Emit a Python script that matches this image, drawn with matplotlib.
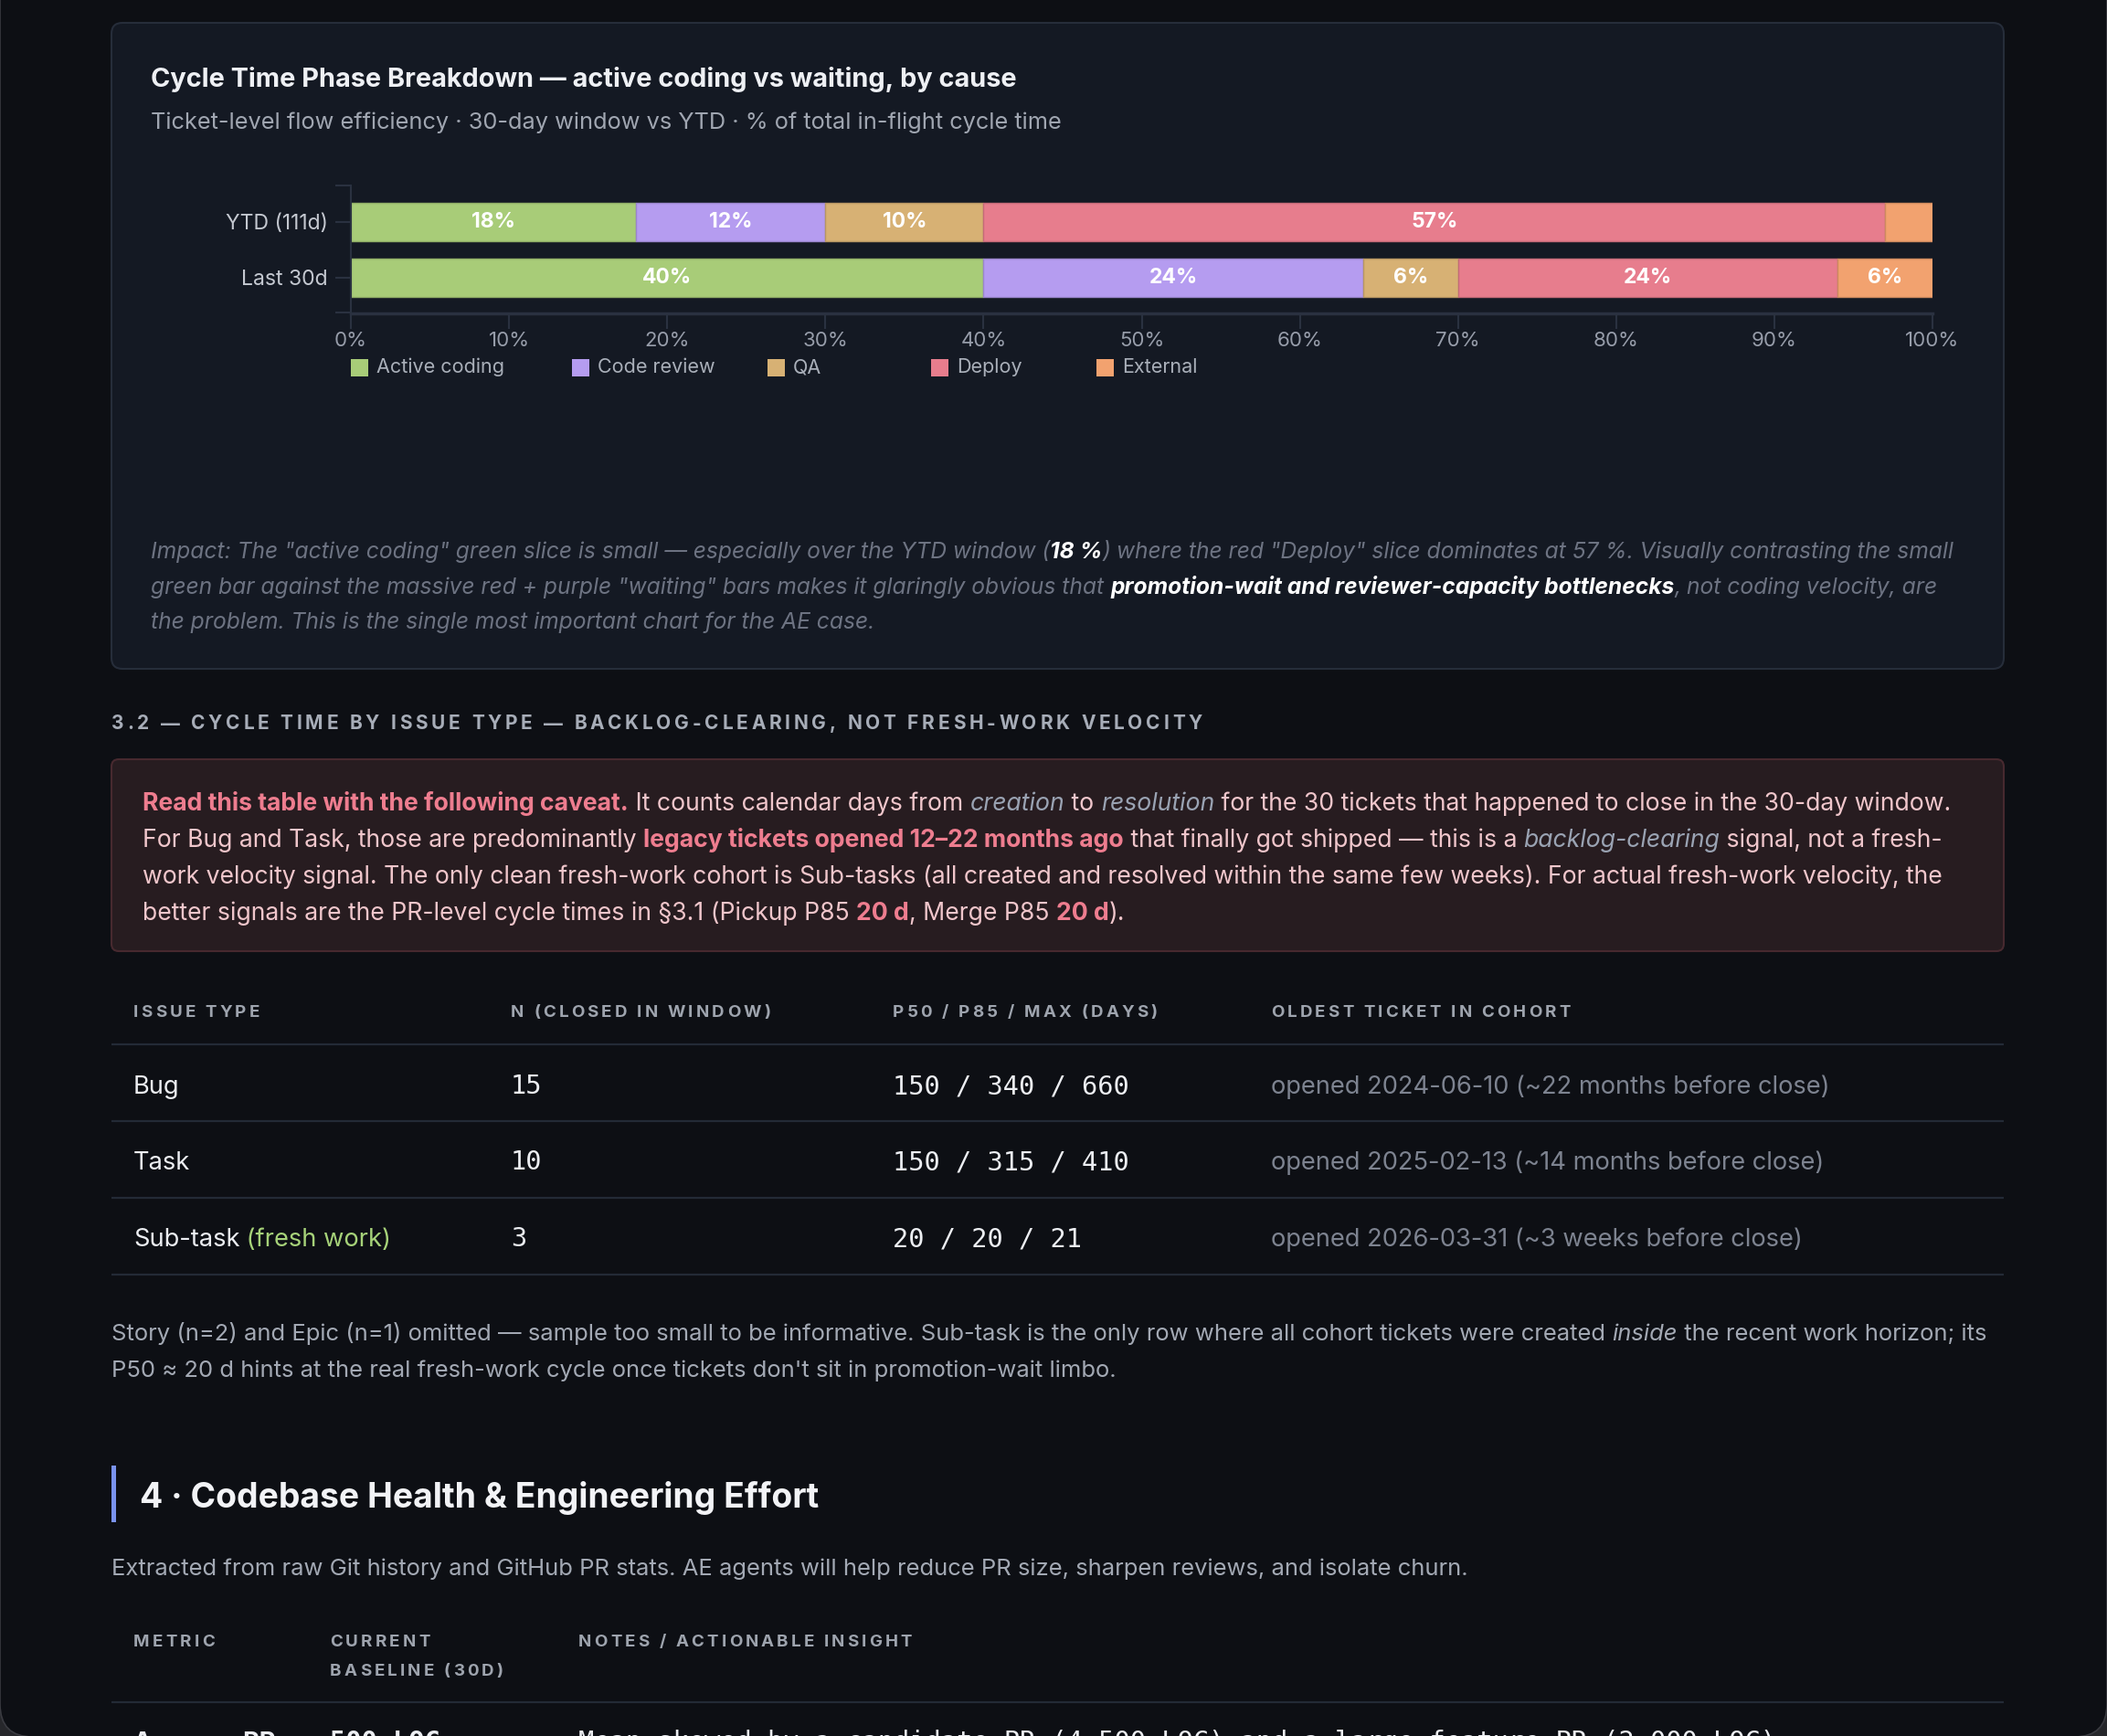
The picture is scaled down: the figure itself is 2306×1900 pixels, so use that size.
"""
Cycle time phase breakdown + issue-type table, dark dashboard page.
"""
import matplotlib
matplotlib.use("Agg")
import matplotlib.pyplot as plt
import matplotlib.colors as mcolors
from matplotlib import font_manager
from matplotlib.font_manager import FontProperties
from matplotlib.patches import FancyBboxPatch, Rectangle

W, H, DPI = 2306, 1900, 100

# share of in-flight cycle time (%)
periods = ["YTD (111d)", "Last 30d"]
phases = ["Active coding", "Code review", "QA", "Deploy", "External"]
ytd_share = [18, 12, 10, 57, 3]
last30_share = [40, 24, 6, 24, 6]
phase_colors = ["#a8cc78", "#b59cf0", "#d7b174", "#e77d8d", "#f2a26f"]

# cycle time by issue type
issue_types = ["Bug", "Task", "Sub-task"]
n_closed = [15, 10, 3]
p50_days = [150, 150, 20]
p85_days = [340, 315, 20]
max_days = [660, 410, 21]
oldest_opened = ["2024-06-10", "2025-02-13", "2026-03-31"]
oldest_age = ["~22 months", "~14 months", "~3 weeks"]

PAGE = "#0d0f14"
CARD = "#141923"
AXC = "#2a3140"
RULE = "#232a36"


def _has(fam, bold=False, italic=False):
    for f in font_manager.fontManager.ttflist:
        if f.name != fam:
            continue
        w = f.weight if isinstance(f.weight, int) else font_manager.weight_dict.get(f.weight, 400)
        if (w >= 600) == bold and (f.style == "italic" or f.style == "oblique") == italic:
            return True
    return False


def pick(cands, bold=False, italic=False):
    for c in cands:
        if _has(c, bold, italic):
            return c
    return "DejaVu Sans"


CANDS = ["Inter", "Roboto", "Open Sans", "Lato", "Noto Sans", "DejaVu Sans"]
SANS = pick(CANDS)
SANS_B = pick(CANDS, bold=True)
ITAL = pick(CANDS, italic=True)
ITAL_B = pick(CANDS, bold=True, italic=True)
MONO = "DejaVu Sans Mono"
plt.rcParams["font.family"] = SANS

fig = plt.figure(figsize=(W / DPI, H / DPI), dpi=DPI, facecolor="#26272b")
bg = fig.add_axes([0, 0, 1, 1])
bg.set_xlim(0, W)
bg.set_ylim(H, 0)
bg.axis("off")
R = fig.canvas.get_renderer()


def prop(size, weight="normal", style="normal", family=None):
    if family is None:
        bold = weight == "bold"
        if style == "italic":
            family = ITAL_B if bold else ITAL
        else:
            family = SANS_B if bold else SANS
    return FontProperties(family=family, size=size, weight=weight, style=style)


def adv(s, fp):
    if not s:
        return 0.0
    w1 = R.get_text_width_height_descent(s + "I", fp, ismath=False)[0]
    w0 = R.get_text_width_height_descent("I", fp, ismath=False)[0]
    return w1 - w0


def seg(s, color, weight="normal", style="normal", family=None):
    return (s, color, weight, style, family)


def line_width(parts, size):
    return sum(adv(s, prop(size, w, st, f)) for s, c, w, st, f in parts)


def fit(parts, target, base=18.0):
    return base * target / line_width(parts, base)


def baseline(yc, size):
    return yc + 0.36 * size * DPI / 72


def rich(x, yc, parts, size):
    y = baseline(yc, size)
    for s, color, weight, style, fam in parts:
        fp = prop(size, weight, style, fam)
        bg.text(x, y, s, fontproperties=fp, color=color, va="baseline", ha="left")
        x += adv(s, fp)
    return x


def tracked(x, yc, s, size, color, track, weight="bold"):
    fp = prop(size, weight)
    y = baseline(yc, size)
    for i, ch in enumerate(s):
        if ch != " ":
            bg.text(x + adv(s[:i], fp) + i * track, y, ch, fontproperties=fp,
                    color=color, va="baseline", ha="left")


def track_for(s, size, target, weight="bold"):
    return (target - adv(s, prop(size, weight))) / (len(s) - 1)


# page with rounded window corners at the bottom
bg.add_patch(FancyBboxPatch((0, -60), W, H + 61, boxstyle="round,pad=0,rounding_size=36",
                            facecolor=PAGE, edgecolor="#3a3b41", linewidth=1.2))

# ---------------- chart card ----------------
bg.add_patch(FancyBboxPatch((122, 25), 2071, 707, boxstyle="round,pad=0,rounding_size=12",
                            facecolor=CARD, edgecolor="#262d3a", linewidth=1.5))

title = [seg("Cycle Time Phase Breakdown \u2014 active coding vs waiting, by cause", "#eef0f4", "bold")]
rich(165, 85, title, fit(title, 947))
sub = [seg("Ticket-level flow efficiency \u00b7 30-day window vs YTD \u00b7 % of total in-flight cycle time", "#a0a6b1")]
rich(165, 132, sub, fit(sub, 995))

cax = fig.add_axes([384 / W, 1 - 343 / H, (2115 - 384) / W, 140 / H])
cax.set_facecolor("none")
ypos = [1, 0]
series = [ytd_share, last30_share]
left = [0, 0]
for k, ph in enumerate(phases):
    vals = [s[k] for s in series]
    edge = tuple(c * 0.85 for c in mcolors.to_rgb(phase_colors[k]))
    bars = cax.barh(ypos, vals, left=left, height=0.69, color=phase_colors[k],
                    edgecolor=edge, linewidth=1.0, label=ph)
    for b, v in zip(bars, vals):
        if v >= 5:
            cax.text(b.get_x() + b.get_width() / 2, b.get_y() + b.get_height() / 2, f"{v}%",
                     ha="center", va="center", color="white",
                     fontproperties=prop(16.5, "bold"))
    left = [l + v for l, v in zip(left, vals)]

cax.set_xlim(0, 100)
cax.set_ylim(-0.64, 1.656)
cax.set_xticks(range(0, 101, 10))
cax.set_xticklabels([f"{t}%" for t in range(0, 101, 10)])
cax.set_yticks(ypos)
cax.set_yticklabels(periods)
cax.set_yticks([-0.63, 1.65], minor=True)
cax.tick_params(axis="x", length=12, width=1.5, color=AXC, pad=2.5, labelsize=16, labelcolor="#979daa")
cax.tick_params(axis="y", which="both", length=12, width=1.5, color=AXC, pad=6, labelsize=16.5,
                labelcolor="#c4c8d0")
for side in ["top", "right"]:
    cax.spines[side].set_visible(False)
cax.spines["left"].set_color(AXC)
cax.spines["left"].set_linewidth(1.5)
cax.spines["bottom"].set_color(AXC)
cax.spines["bottom"].set_linewidth(2.5)

legend_x = [384, 626, 840, 1019, 1200]
for xx, ph, c in zip(legend_x, phases, phase_colors):
    bg.add_patch(Rectangle((xx, 392.5), 19, 19, facecolor=c, edgecolor="none"))
    bg.text(xx + 28, 402, ph, fontproperties=prop(15.5), color="#a9afb9", va="center", ha="left")

imp_c = "#6d7382"
impact = [
    [seg('Impact: The "active coding" green slice is small \u2014 especially over the YTD window (', imp_c, style="italic"),
     seg("18 %", "#ffffff", "bold", "italic"),
     seg(') where the red "Deploy" slice dominates at 57 %. Visually contrasting the small', imp_c, style="italic")],
    [seg('green bar against the massive red + purple "waiting" bars makes it glaringly obvious that ', imp_c, style="italic"),
     seg("promotion-wait and reviewer-capacity bottlenecks", "#ffffff", "bold", "italic"),
     seg(", not coding velocity, are", imp_c, style="italic")],
    [seg("the problem. This is the single most important chart for the AE case.", imp_c, style="italic")],
]
isz = fit(impact[0], 1972)
for parts, yc in zip(impact, [602, 641, 679]):
    rich(165, yc, parts, isz)

# ---------------- section 3.2 ----------------
hdr = "3.2 \u2014 CYCLE TIME BY ISSUE TYPE \u2014 BACKLOG-CLEARING, NOT FRESH-WORK VELOCITY"
tracked(122, 791, hdr, 15, "#a7adb8", track_for(hdr, 15, 1194))

bg.add_patch(FancyBboxPatch((122, 831), 2071, 210, boxstyle="round,pad=0,rounding_size=8",
                            facecolor="#271c20", edgecolor="#47292f", linewidth=1.5))
cv, cr, ci = "#f0c6cb", "#ee7d8f", "#9aa3b3"
caveat = [
    [seg("Read this table with the following caveat.", cr, "bold"),
     seg(" It counts calendar days from ", cv), seg("creation", ci, style="italic"),
     seg(" to ", cv), seg("resolution", ci, style="italic"),
     seg(" for the 30 tickets that happened to close in the 30-day window.", cv)],
    [seg("For Bug and Task, those are predominantly ", cv),
     seg("legacy tickets opened 12\u201322 months ago", cr, "bold"),
     seg(" that finally got shipped \u2014 this is a ", cv), seg("backlog-clearing", ci, style="italic"),
     seg(" signal, not a fresh-", cv)],
    [seg("work velocity signal. The only clean fresh-work cohort is Sub-tasks (all created and resolved "
         "within the same few weeks). For actual fresh-work velocity, the", cv)],
    [seg("better signals are the PR-level cycle times in \u00a73.1 (Pickup P85 ", cv), seg("20 d", cr, "bold"),
     seg(", Merge P85 ", cv), seg("20 d", cr, "bold"), seg(").", cv)],
]
csz = fit(caveat[0], 1977)
for parts, yc in zip(caveat, [877, 917, 957, 997]):
    rich(156, yc, parts, csz)

# table 1
col_x = [146, 559, 977, 1391]
th_c = "#9ea4ae"
th_size = 13.5
th_track = track_for("N (CLOSED IN WINDOW)", th_size, 284)
for xx, s in zip(col_x, ["ISSUE TYPE", "N (CLOSED IN WINDOW)", "P50 / P85 / MAX (DAYS)", "OLDEST TICKET IN COHORT"]):
    tracked(xx, 1106, s, th_size, th_c, th_track)

for yy in [1143, 1227, 1311, 1395]:
    bg.plot([122, 2193], [yy, yy], color=RULE, lw=1.6, solid_capstyle="butt")

row_y = [1187, 1270, 1354]
oldest_txt = [f"opened {d} ({a} before close)" for d, a in zip(oldest_opened, oldest_age)]
rsz = fit([seg(oldest_txt[0], "#fff")], 612)
pct_txt = [f"{a} / {b} / {c}" for a, b, c in zip(p50_days, p85_days, max_days)]
msz = fit([seg(pct_txt[0], "#fff", family=MONO)], 258)
body_c = "#eceef2"
for i, yc in enumerate(row_y):
    name = [seg(issue_types[i], body_c)]
    if issue_types[i] == "Sub-task":
        name.append(seg(" (fresh work)", "#a6d279"))
    rich(col_x[0], yc, name, rsz)
    rich(col_x[1], yc, [seg(str(n_closed[i]), body_c, family=MONO)], msz)
    rich(col_x[2], yc, [seg(pct_txt[i], body_c, family=MONO)], msz)
    rich(col_x[3], yc, [seg(oldest_txt[i], "#7d8390")], rsz)

pc = "#a3a9b4"
story = [
    [seg("Story (n=2) and Epic (n=1) omitted \u2014 sample too small to be informative. Sub-task is the only "
         "row where all cohort tickets were created ", pc), seg("inside", pc, style="italic"),
     seg(" the recent work horizon; its", pc)],
    [seg("P50 \u2248 20 d hints at the real fresh-work cycle once tickets don't sit in promotion-wait limbo.", pc)],
]
ssz = fit(story[0], 2049)
for parts, yc in zip(story, [1458, 1498]):
    rich(122, yc, parts, ssz)

# ---------------- section 4 ----------------
bg.add_patch(Rectangle((122, 1604), 5, 62, facecolor="#7a93ef", edgecolor="none"))
head = [seg("4 \u00b7 Codebase Health & Engineering Effort", "#f2f3f6", "bold")]
rich(153, 1637, head, fit(head, 741))
ext = [seg("Extracted from raw Git history and GitHub PR stats. AE agents will help reduce PR size, "
           "sharpen reviews, and isolate churn.", pc)]
rich(122, 1715, ext, ssz)

for xx, yc, s in [(146, 1795, "METRIC"), (361, 1795, "CURRENT"), (361, 1827, "BASELINE (30D)"),
                  (633, 1795, "NOTES / ACTIONABLE INSIGHT")]:
    tracked(xx, yc, s, th_size, th_c, th_track)
bg.plot([122, 2193], [1863, 1863], color=RULE, lw=1.6, solid_capstyle="butt")

# first row of the next table, cut by the window edge (as in the source page)
yb = 1915
bg.text(146, yb, "Average PR", fontproperties=prop(rsz, "bold"), color=body_c, va="baseline")
bg.text(361, yb, "500 LOC", fontproperties=prop(msz, "bold", family=MONO), color=body_c, va="baseline")
bg.text(633, yb, "Mean skewed by a candidate PR (4,500 LOC) and a large feature PR (2,000 LOC)",
        fontproperties=prop(msz, family=MONO), color=body_c, va="baseline")

fig.savefig("out.png", dpi=DPI, facecolor=fig.get_facecolor())
